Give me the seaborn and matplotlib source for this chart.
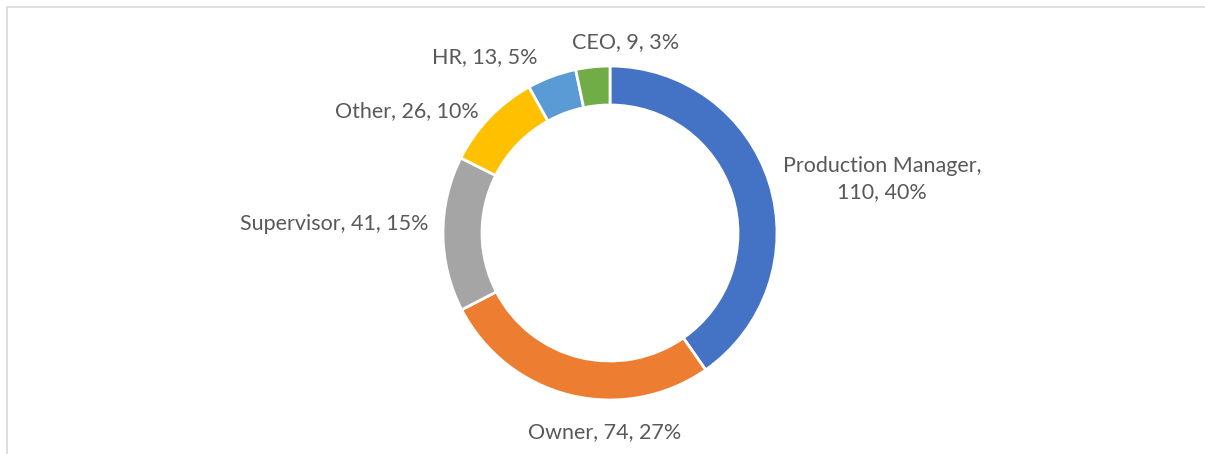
import matplotlib
matplotlib.use("Agg")
import matplotlib.pyplot as plt
from matplotlib.lines import Line2D
import seaborn as sns

# data
roles = ["Production Manager", "Owner", "Supervisor", "Other", "HR", "CEO"]
counts = [110, 74, 41, 26, 13, 9]
colors = ["#4472C4", "#ED7D31", "#A5A5A5", "#FFC000", "#5B9BD5", "#70AD47"]

# label layout in pixel space (x, y from top, ha)
label_pos = [
    (882, 179, "center"),
    (605, 432, "center"),
    (428, 224, "right"),
    (479, 111, "right"),
    (538, 57, "right"),
    (626, 42, "center"),
]

W, H = 1205, 454
sns.set_theme(style="white")
plt.rcParams["font.family"] = ["Lato", "DejaVu Sans"]

fig = plt.figure(figsize=(W / 100, H / 100), dpi=100)
ax = fig.add_axes([0, 0, 1, 1])

wedges, _ = ax.pie(
    counts,
    colors=sns.color_palette(colors),
    startangle=90,
    counterclock=False,
    center=(610, H - 233),
    radius=167,
    wedgeprops=dict(width=39, edgecolor="white", linewidth=2),
)
ax.set_xlim(0, W)
ax.set_ylim(0, H)
ax.set_aspect("equal")
ax.axis("off")

total = sum(counts)
for role, n, (x, y, ha) in zip(roles, counts, label_pos):
    pct = round(100 * n / total)
    if role == "Production Manager":
        txt = f"{role},\n{n}, {pct}%"
    else:
        txt = f"{role}, {n}, {pct}%"
    ax.text(x, H - y, txt, ha=ha, va="center", fontsize=15.5,
            color="#595959", multialignment="center", linespacing=1.4)

# chart frame (cropped at right and bottom)
fig.add_artist(Line2D([6.5 / W, 1.0], [1 - 6.5 / H, 1 - 6.5 / H],
                      transform=fig.transFigure, color="#d9d9d9", lw=1.2))
fig.add_artist(Line2D([6.5 / W, 6.5 / W], [0, 1 - 6.5 / H],
                      transform=fig.transFigure, color="#d9d9d9", lw=1.2))

fig.savefig("out.png", dpi=100)
